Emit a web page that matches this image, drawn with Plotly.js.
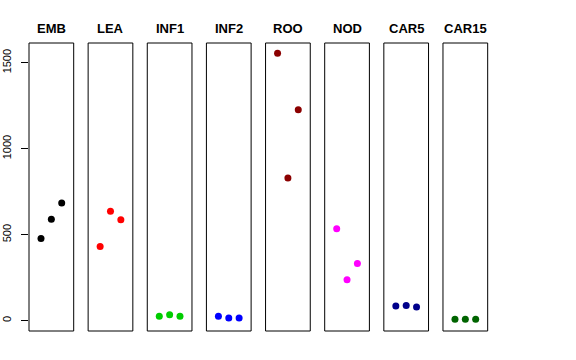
<!DOCTYPE html>
<html>
<head>
<meta charset="utf-8">
<script src="https://cdn.plot.ly/plotly-3.0.1.min.js"></script>
<style>html,body{margin:0;padding:0;background:#fff}#chart{width:576px;height:360px}</style>
</head>
<body>
<div id="chart"></div>
<script>
const categories = ["EMB", "LEA", "INF1", "INF2", "ROO", "NOD", "CAR5", "CAR15"];
const replicate = [1, 2, 3];
const EMB = [478, 590, 684];
const LEA = [432, 636, 587];
const INF1 = [26, 34, 26];
const INF2 = [26, 16, 15];
const ROO = [1555, 830, 1227];
const NOD = [535, 238, 333];
const CAR5 = [86, 88, 80];
const CAR15 = [9, 9, 9];
const seriesValues = [EMB, LEA, INF1, INF2, ROO, NOD, CAR5, CAR15];
const colors = ["#000000", "#FF0000", "#00CD00", "#0000FF", "#8B0000", "#FF00FF", "#00008B", "#006400"];
const yTicks = [0, 500, 1000, 1500];

const W = 576, L = 29, R = 88;
const plotW = W - L - R;
const step = 59.14, panelW = 44.7;

const traces = [];
const layout = {
  width: 576, height: 360,
  margin: {l: L, r: R, t: 43, b: 29, pad: 0},
  paper_bgcolor: "#fff", plot_bgcolor: "rgba(0,0,0,0)",
  showlegend: false,
  font: {family: "Liberation Sans, Arial, sans-serif", color: "#000"},
  yaxis: {
    range: [-60, 1615], tickvals: yTicks, ticktext: yTicks.map(String),
    ticks: "outside", ticklen: 7, tickwidth: 1, tickcolor: "#000",
    tickangle: -90, tickfont: {size: 11, color: "#000"},
    showgrid: false, zeroline: false, showline: false,
    ticklabelstandoff: 6, anchor: "x", fixedrange: true
  },
  shapes: [], annotations: []
};

categories.forEach((cat, i) => {
  const ax = i === 0 ? "x" : "x" + (i + 1);
  const axKey = i === 0 ? "xaxis" : "xaxis" + (i + 1);
  const d0 = (step * i) / plotW, d1 = (step * i + panelW) / plotW;
  layout[axKey] = {
    domain: [d0, Math.min(d1, 1)], range: [-0.16, 4.16],
    showticklabels: false, ticks: "", showgrid: false, zeroline: false,
    showline: false, anchor: "y", fixedrange: true
  };
  traces.push({
    x: replicate, y: seriesValues[i], xaxis: ax, yaxis: "y",
    type: "scatter", mode: "markers",
    marker: {color: colors[i], size: 7},
    hoverinfo: "skip"
  });
  layout.shapes.push({
    type: "rect", xref: ax + " domain", yref: "y domain",
    x0: 0, x1: 1, y0: 0, y1: 1,
    line: {color: "#000", width: 1}, fillcolor: "rgba(0,0,0,0)"
  });
  layout.annotations.push({
    text: "<b>" + cat + "</b>", xref: ax + " domain", yref: "paper",
    x: 0.5, y: 1, xanchor: "center", yanchor: "bottom", yshift: 5,
    showarrow: false, font: {size: 13, color: "#000"}
  });
});

Plotly.newPlot("chart", traces, layout, {displayModeBar: false, staticPlot: true});
</script>
</body>
</html>
